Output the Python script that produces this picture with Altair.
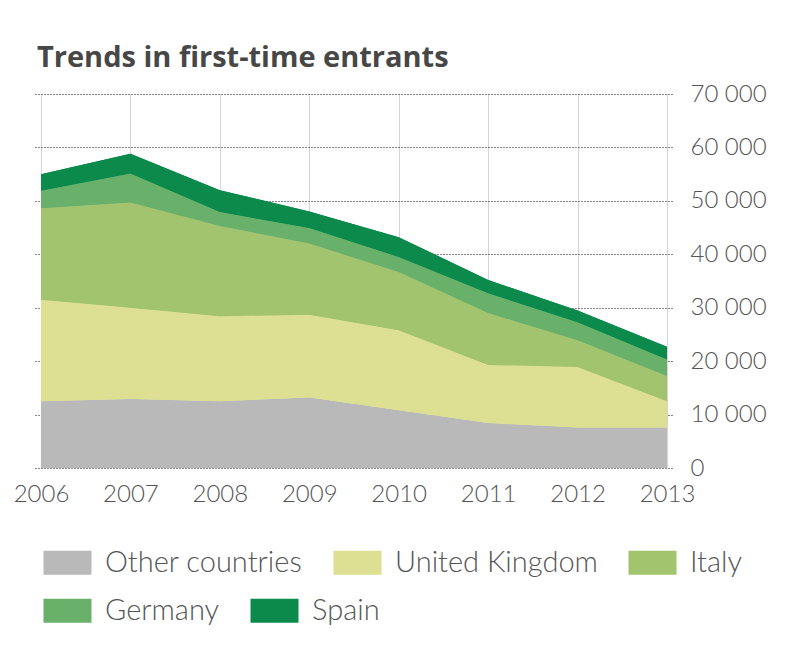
import altair as alt
import pandas as pd

years = [2006, 2007, 2008, 2009, 2010, 2011, 2012, 2013]
countries = ["Other countries", "United Kingdom", "Italy", "Germany", "Spain"]
colors = ["#b9b9b9", "#dde093", "#a3c46f", "#69b06a", "#0b8a4b"]

other = [12500, 12900, 12500, 13200, 10800, 8400, 7600, 7600]
uk = [19000, 17100, 15900, 15500, 15000, 10900, 11300, 4900]
italy = [17100, 19700, 16900, 13300, 10900, 9700, 5000, 4700]
germany = [3300, 5400, 2600, 2900, 2800, 3700, 3400, 3100]
spain = [3100, 3700, 4100, 3100, 3700, 2500, 2200, 2400]

y_ticks = [0, 10000, 20000, 30000, 40000, 50000, 60000, 70000]

series = [other, uk, italy, germany, spain]
rows = []
for i, (name, vals) in enumerate(zip(countries, series)):
    for yr, v in zip(years, vals):
        rows.append({"year": yr, "country": name, "value": v, "order": i})
df = pd.DataFrame(rows)

x_enc = alt.X("year:Q",
              scale=alt.Scale(domain=[2005.933, 2013.056], nice=False, zero=False),
              axis=alt.Axis(values=years, format="d", title=None, grid=True,
                            gridDash=[1, 1], gridColor="#aaaaaa", gridWidth=1,
                            domain=False, ticks=False, labelPadding=14,
                            labelFontSize=24, labelFont="Lato", labelFontWeight=300,
                            labelColor="#555555", labelFlush=False))
y_enc = alt.Y("value:Q", stack="zero",
              scale=alt.Scale(domain=[0, 70000], nice=False),
              axis=alt.Axis(orient="right", values=y_ticks, title=None, grid=True,
                            gridDash=[1, 2], gridColor="#111111", gridWidth=1,
                            domain=False, ticks=False, labelPadding=18,
                            labelExpr="replace(format(datum.value, ','), ',', ' ')",
                            labelFontSize=24, labelFont="Lato", labelFontWeight=300,
                            labelColor="#555555", labelAlign="left"))


def legend(values, y):
    return alt.Legend(orient="none", legendX=6, legendY=y, values=values,
                      direction="horizontal", title=None,
                      symbolType="M-1,-1H3V1H-1Z", symbolSize=576,
                      symbolStrokeWidth=0, symbolOpacity=1,
                      labelOffset=35, columnPadding=28,
                      labelFontSize=29, labelFont="Lato",
                      labelFontWeight=300, labelColor="#555555",
                      labelLimit=400, padding=0)


base = alt.Chart(df).mark_area(opacity=1)

under = base.encode(
    x=x_enc, y=y_enc,
    color=alt.Color("country:N", scale=alt.Scale(domain=countries, range=colors),
                    legend=legend(countries[3:], 502)),
    order=alt.Order("order:Q", sort="ascending"),
)
over = base.encode(
    x=x_enc, y=y_enc,
    color=alt.Color("country:N", scale=alt.Scale(domain=countries, range=colors),
                    legend=legend(countries[:3], 454)),
    order=alt.Order("order:Q", sort="ascending"),
)

chart = alt.layer(under, over).resolve_scale(color="independent").properties(
    width=637,
    height=374,
    title=alt.TitleParams("Trends in first-time entrants", anchor="start",
                          frame="group",
                          fontSize=29, font="Open Sans", fontWeight="bold",
                          color="#474747", offset=9, dx=2),
    autosize=alt.AutoSizeParams(type="none"),
    padding={"left": 27, "top": 86, "right": 110, "bottom": 170},
).configure_view(stroke=None)

chart.save("out.html", embed_options={"renderer": "svg", "actions": False})
